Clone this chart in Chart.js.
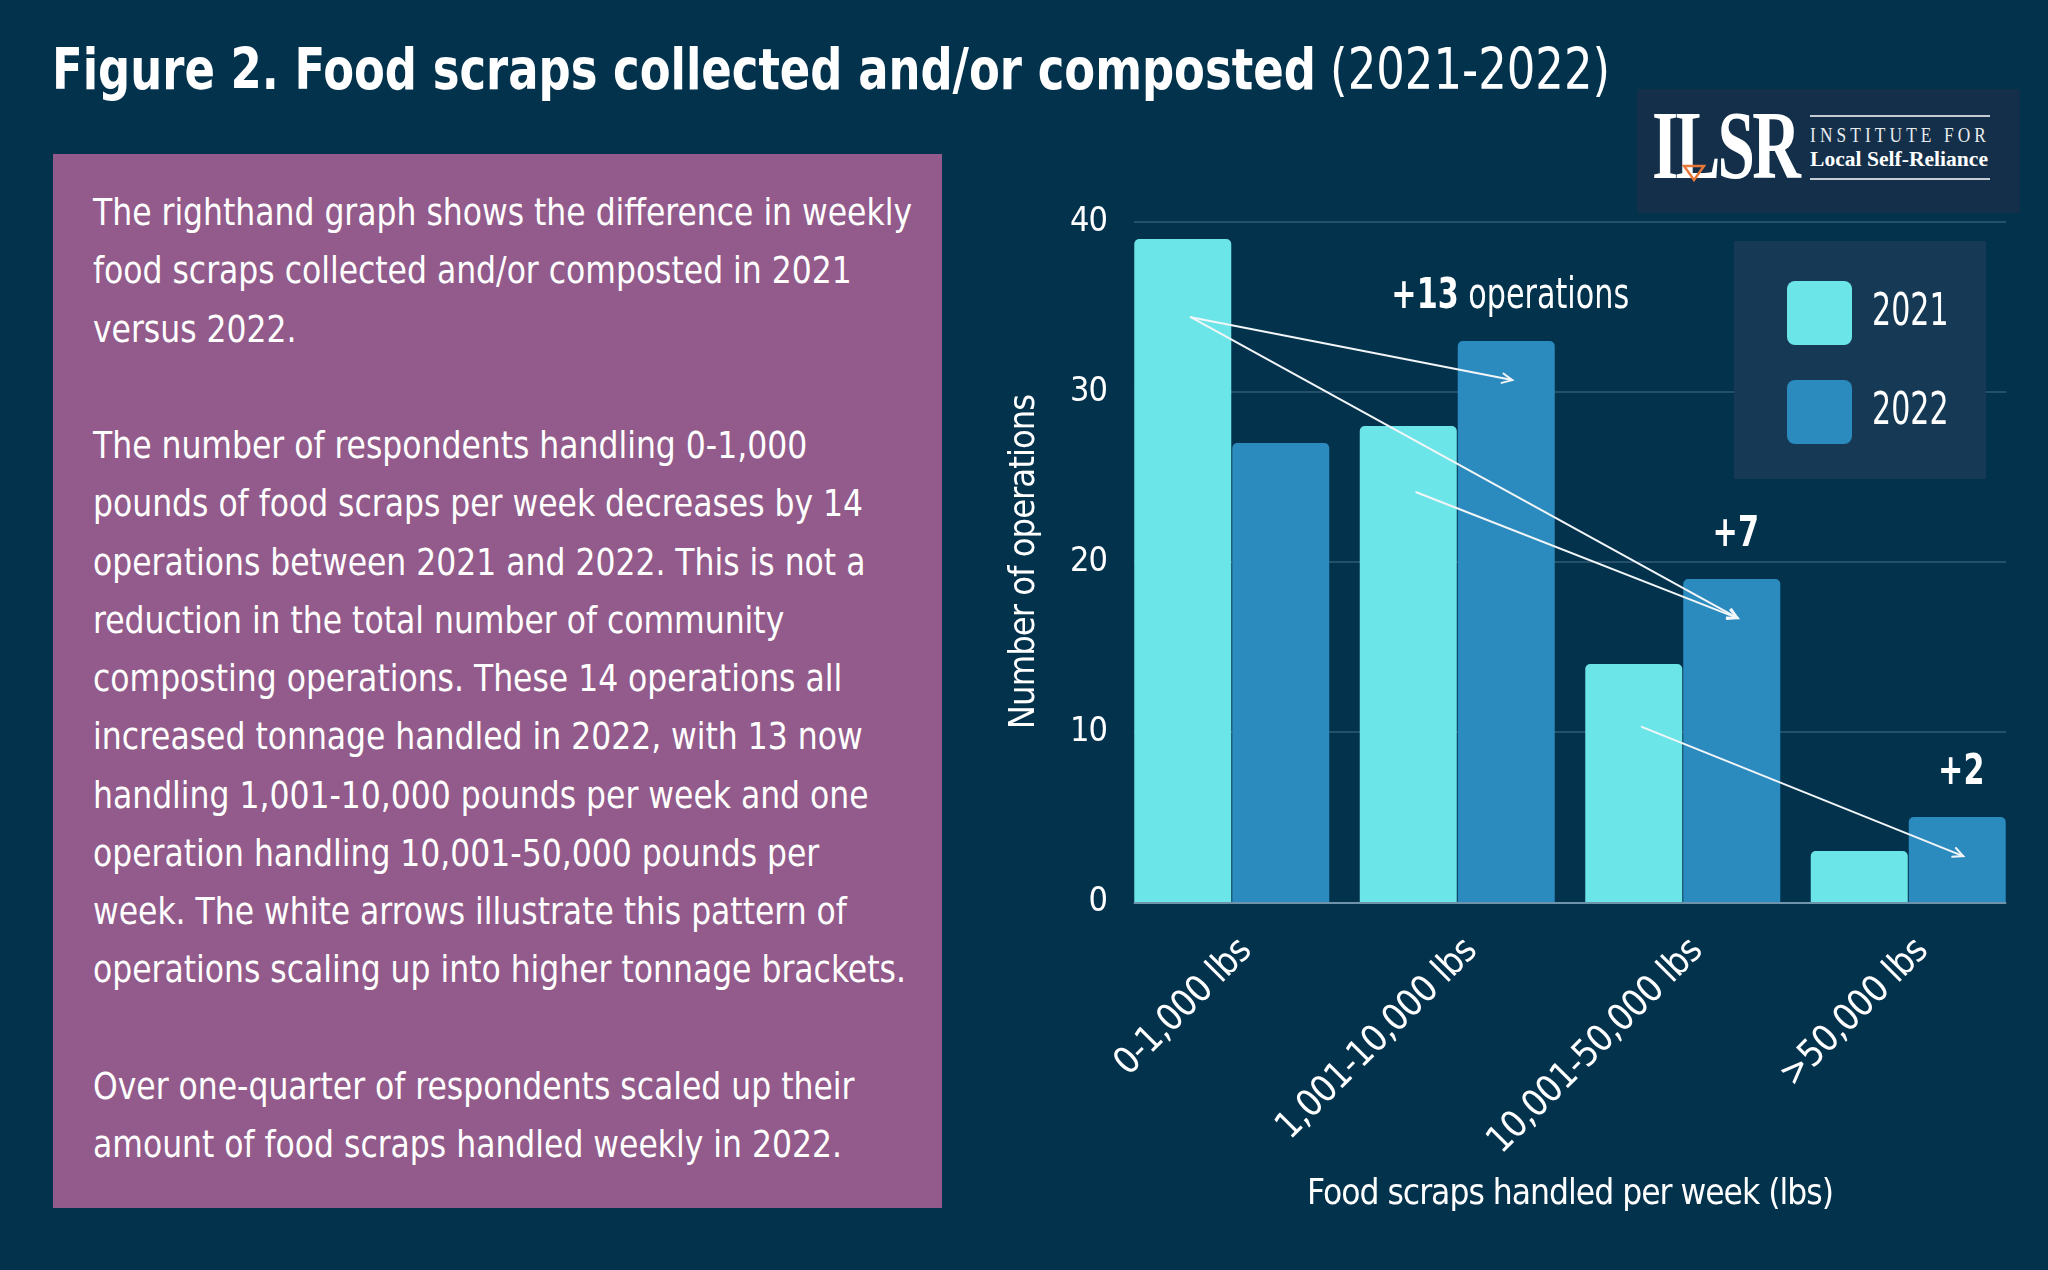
<!DOCTYPE html>
<html>
<head>
<meta charset="utf-8">
<script src="https://cdn.jsdelivr.net/npm/chart.js@4.4.1/dist/chart.umd.min.js"></script>
<style>
  html, body { margin: 0; padding: 0; background: #03324d; }
  #page { position: relative; width: 2048px; height: 1270px; overflow: hidden; background: #03324d; }
  #chart { position: absolute; left: 0; top: 0; }
  .narrow { font-family: 'Liberation Sans Narrow', 'DejaVu Sans Condensed', 'Liberation Sans', sans-serif; }
  .serif { font-family: 'Liberation Serif', 'DejaVu Serif', serif; }
  #title { position: absolute; left: 52px; top: 41px; font-size: 57px; line-height: 57px; color: #fff; white-space: nowrap; transform-origin: 0 0; }
  #title b { font-weight: 700; }
  #panel { position: absolute; left: 53px; top: 154px; width: 889px; height: 1054px; background: #925b8b; }
  #panelText { position: absolute; left: 40px; top: 29px; font-size: 38px; line-height: 58.25px; color: #fff; white-space: nowrap; transform-origin: 0 0; }
  #logo { position: absolute; left: 1637px; top: 89px; width: 383px; height: 124px; background: #142f49; }
  #ilsr { position: absolute; left: 15px; top: 7px; font-size: 98px; line-height: 98px; font-weight: 700; color: #fff; white-space: nowrap; letter-spacing: -4px; transform-origin: 0 0; }
  .rule { position: absolute; left: 173px; width: 180px; height: 2px; background: #c5ccd4; }
  #inst { position: absolute; left: 173px; top: 36px; font-size: 21px; line-height: 21px; letter-spacing: 5px; color: #e8ecf0; white-space: nowrap; transform-origin: 0 0; }
  #lsr { position: absolute; left: 173px; top: 60px; font-size: 20px; line-height: 20px; font-weight: 700; color: #fff; white-space: nowrap; transform-origin: 0 0; }
  #tri { position: absolute; left: 45px; top: 75px; }
</style>
</head>
<body>
<div id="page">
  <canvas id="chart" width="2048" height="1270"></canvas>

  <div id="title" class="narrow"><b>Figure 2. Food scraps collected and/or composted</b> (2021-2022)</div>

  <div id="panel">
    <div id="panelText" class="narrow">
      The righthand graph shows the difference in weekly<br>
      food scraps collected and/or composted in 2021<br>
      versus 2022.<br>
      <br>
      The number of respondents handling 0-1,000<br>
      pounds of food scraps per week decreases by 14<br>
      operations between 2021 and 2022. This is not a<br>
      reduction in the total number of community<br>
      composting operations. These 14 operations all<br>
      increased tonnage handled in 2022, with 13 now<br>
      handling 1,001-10,000 pounds per week and one<br>
      operation handling 10,001-50,000 pounds per<br>
      week. The white arrows illustrate this pattern of<br>
      operations scaling up into higher tonnage brackets.<br>
      <br>
      Over one-quarter of respondents scaled up their<br>
      amount of food scraps handled weekly in 2022.
    </div>
  </div>

  <div id="logo">
    <div id="ilsr" class="serif">ILSR</div>
    <svg id="tri" width="24" height="18"><polygon points="2,2 22,2 12,16" fill="none" stroke="#e8773a" stroke-width="2.5"/></svg>
    <div class="rule" style="top:26px"></div>
    <div id="inst" class="serif">INSTITUTE FOR</div>
    <div id="lsr" class="serif">Local Self-Reliance</div>
    <div class="rule" style="top:89px"></div>
  </div>
</div>

<script>
// chart data
const categories = ["0-1,000 lbs", "1,001-10,000 lbs", "10,001-50,000 lbs", ">50,000 lbs"];
const years = ["2021", "2022"];
const ops2021 = [39, 28, 14, 3];
const ops2022 = [27, 33, 19, 5];
const yTicks = [0, 10, 20, 30, 40];

// arrows: from the 2021 bar of one bracket to the 2022 bar of a higher one
const arrowFromGroup = [0, 0, 1, 2];
const arrowToGroup = [1, 2, 2, 3];
const arrowFromLevel = [34.4, 34.4, 24.1, 10.3];
const arrowToLevel = [30.7, 16.7, 16.7, 2.7];

// gain notes over the 2022 bars
const gainGroup = [1, 2, 3];
const gainValue = [13, 7, 2];
const gainSuffix = [" operations", "", ""];

const NARROW = "'Liberation Sans Narrow', 'DejaVu Sans Condensed', 'Liberation Sans', sans-serif";
const CAT_PCT = 0.869;
const colors = ["#6be5e8", "#2b8abe"];

function fit(el, w) {
  el.style.transform = "";
  const r = el.getBoundingClientRect().width;
  el.style.transform = "scaleX(" + (w / r) + ")";
}

function arrow(ctx, x1, y1, x2, y2) {
  ctx.beginPath();
  ctx.moveTo(x1, y1);
  ctx.lineTo(x2, y2);
  ctx.stroke();
  const a = Math.atan2(y2 - y1, x2 - x1), h = 11;
  ctx.beginPath();
  ctx.moveTo(x2 - h * Math.cos(a - 0.45), y2 - h * Math.sin(a - 0.45));
  ctx.lineTo(x2, y2);
  ctx.lineTo(x2 - h * Math.cos(a + 0.45), y2 - h * Math.sin(a + 0.45));
  ctx.stroke();
}

function roundRect(ctx, x, y, w, h, r) {
  ctx.beginPath();
  ctx.moveTo(x + r, y);
  ctx.arcTo(x + w, y, x + w, y + h, r);
  ctx.arcTo(x + w, y + h, x, y + h, r);
  ctx.arcTo(x, y + h, x, y, r);
  ctx.arcTo(x, y, x + w, y, r);
  ctx.closePath();
}

// condensed-looking text: draw squeezed horizontally around (x, y)
function squeezed(ctx, text, x, y, sx) {
  ctx.save();
  ctx.translate(x, y);
  ctx.scale(sx, 1);
  ctx.fillText(text, 0, 0);
  ctx.restore();
}

const tighten = {
  id: "tighten",
  beforeUpdate(chart) { chart.ctx.letterSpacing = "-1px"; },
  beforeDraw(chart) { chart.ctx.letterSpacing = "-1px"; }
};

const decor = {
  id: "decor",
  beforeDatasetsDraw(chart) {
    const { ctx, chartArea, scales: { x, y } } = chart;
    const cw = x.getPixelForValue(1) - x.getPixelForValue(0);
    const inset = cw * (1 - CAT_PCT) / 2;
    ctx.save();
    ctx.strokeStyle = "#24506c";
    ctx.lineWidth = 2;
    yTicks.forEach(v => {
      if (v === 0) return;
      const py = Math.round(y.getPixelForValue(v));
      ctx.beginPath();
      ctx.moveTo(chartArea.left + inset, py);
      ctx.lineTo(chartArea.right - inset, py);
      ctx.stroke();
    });
    ctx.restore();
  },
  afterDatasetsDraw(chart) {
    const { ctx, chartArea, scales: { x, y } } = chart;
    const cw = x.getPixelForValue(1) - x.getPixelForValue(0);
    const inset = cw * (1 - CAT_PCT) / 2;
    const bars21 = chart.getDatasetMeta(0).data;
    const bars22 = chart.getDatasetMeta(1).data;
    ctx.save();
    ctx.letterSpacing = "0px";

    // zero line
    ctx.strokeStyle = "#6f93aa";
    ctx.lineWidth = 2;
    const y0 = Math.round(y.getPixelForValue(0)) + 1;
    ctx.beginPath();
    ctx.moveTo(chartArea.left + inset, y0);
    ctx.lineTo(chartArea.right - inset, y0);
    ctx.stroke();

    // arrows
    ctx.strokeStyle = "#f2f6f8";
    ctx.lineWidth = 2;
    ctx.lineCap = "round";
    for (let i = 0; i < arrowFromGroup.length; i++) {
      arrow(ctx,
        bars21[arrowFromGroup[i]].x + 8, y.getPixelForValue(arrowFromLevel[i]),
        bars22[arrowToGroup[i]].x + 6, y.getPixelForValue(arrowToLevel[i]));
    }

    // gain notes
    const sx = 0.8;
    ctx.fillStyle = "#ffffff";
    ctx.textBaseline = "middle";
    ctx.textAlign = "left";
    for (let i = 0; i < gainGroup.length; i++) {
      const b = bars22[gainGroup[i]];
      const bold = "+" + gainValue[i];
      ctx.font = "bold 42px " + NARROW;
      const w1 = ctx.measureText(bold).width * sx;
      ctx.font = "42px " + NARROW;
      const w2 = ctx.measureText(gainSuffix[i]).width * sx;
      const left = b.x + 4 - (w1 + w2) / 2;
      const top = b.y - 44;
      ctx.font = "bold 42px " + NARROW;
      squeezed(ctx, bold, left, top, sx);
      ctx.font = "42px " + NARROW;
      squeezed(ctx, gainSuffix[i], left + w1, top, sx);
    }

    // legend box
    ctx.fillStyle = "#163a55";
    ctx.fillRect(1734, 241, 252, 238);
    chart.data.datasets.forEach((ds, i) => {
      const top = 281 + i * 99;
      ctx.fillStyle = ds.backgroundColor;
      roundRect(ctx, 1787, top, 65, 64, 8);
      ctx.fill();
      ctx.fillStyle = "#ffffff";
      ctx.font = "44px " + NARROW;
      ctx.textBaseline = "middle";
      squeezed(ctx, ds.label, 1872, top + 33, 0.76);
    });
    ctx.restore();
  }
};

function build() {
  fit(document.getElementById("title"), 1558);
  const pt = document.getElementById("panelText");
  const probe = document.createElement("span");
  probe.textContent = "The righthand graph shows the difference in weekly";
  probe.className = "narrow";
  probe.style.cssText = "position:absolute;visibility:hidden;white-space:nowrap;font-size:38px";
  document.body.appendChild(probe);
  pt.style.transform = "scaleX(" + (819 / probe.getBoundingClientRect().width) + ")";
  probe.remove();
  fit(document.getElementById("ilsr"), 146);
  fit(document.getElementById("inst"), 180);
  fit(document.getElementById("lsr"), 178);

  new Chart(document.getElementById("chart"), {
    type: "bar",
    data: {
      labels: categories,
      datasets: [
        { label: years[0], data: ops2021, backgroundColor: colors[0] },
        { label: years[1], data: ops2022, backgroundColor: colors[1] }
      ]
    },
    options: {
      responsive: false,
      animation: false,
      devicePixelRatio: 1,
      categoryPercentage: CAT_PCT,
      barPercentage: 0.99,
      borderRadius: { topLeft: 5, topRight: 5 },
      borderSkipped: "bottom",
      layout: { padding: { left: 980, top: 222, right: 27, bottom: 40 } },
      plugins: { legend: { display: false }, tooltip: { enabled: false } },
      scales: {
        x: {
          offset: true,
          grid: { display: false, drawTicks: false },
          border: { display: false },
          ticks: {
            color: "#ffffff",
            font: { family: NARROW, size: 37 },
            minRotation: 45,
            maxRotation: 45,
            autoSkip: false,
            padding: 28,
            labelOffset: 14
          },
          title: {
            display: true,
            text: "Food scraps handled per week (lbs)",
            color: "#ffffff",
            font: { family: NARROW, size: 35 },
            padding: { top: 0, bottom: 14 }
          },
          afterFit(scale) { scale.height = 328; }
        },
        y: {
          min: 0,
          max: 40,
          grid: { display: false, drawTicks: false },
          border: { display: false },
          ticks: {
            stepSize: 10,
            color: "#ffffff",
            font: { family: NARROW, size: 34 },
            padding: 12
          },
          title: {
            display: true,
            text: "Number of operations",
            color: "#ffffff",
            font: { family: NARROW, size: 36 },
            padding: { top: 23, bottom: 0 }
          },
          afterFit(scale) { scale.width = 139; }
        }
      }
    },
    plugins: [tighten, decor]
  });
}

Promise.all([
  document.fonts.load("42px 'Liberation Sans Narrow'"),
  document.fonts.load("bold 42px 'Liberation Sans Narrow'"),
  document.fonts.load("42px 'DejaVu Sans Condensed'")
]).then(build, build);
</script>
</body>
</html>
